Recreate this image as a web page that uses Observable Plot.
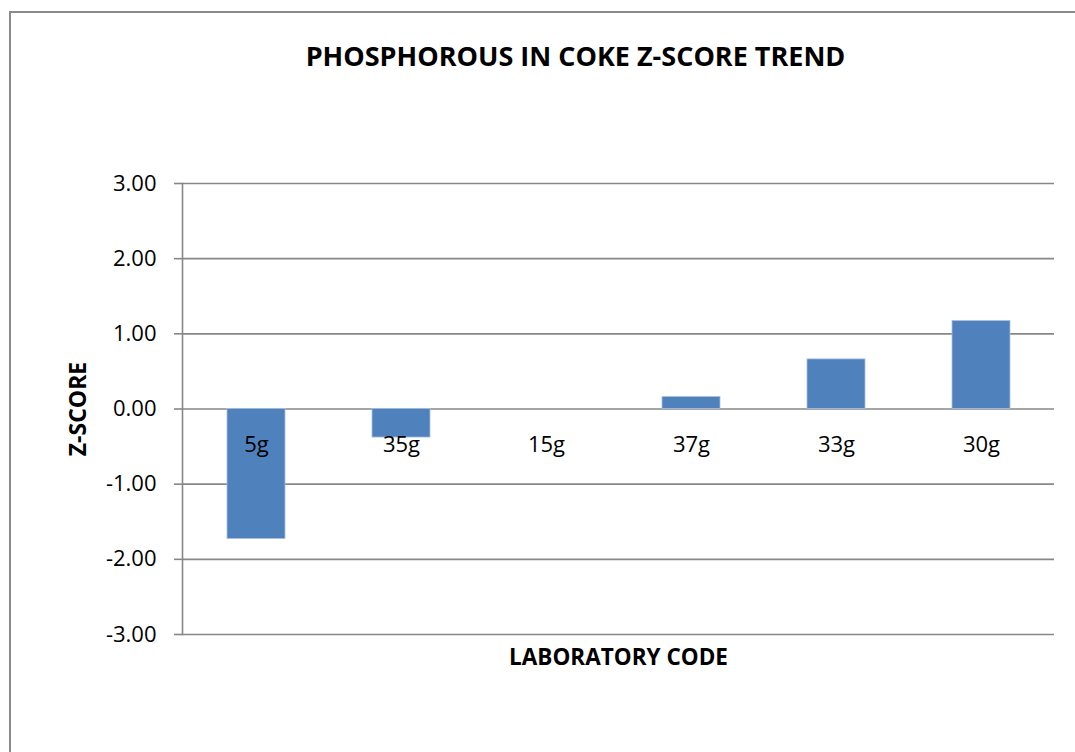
<!DOCTYPE html>
<html>
<head>
<meta charset="utf-8">
<script src="https://cdn.jsdelivr.net/npm/d3@7"></script>
<script src="https://cdn.jsdelivr.net/npm/@observablehq/plot@0.6"></script>
<style>
  html, body { margin: 0; padding: 0; background: #fff; overflow: hidden; }
  #wrap { position: relative; width: 1075px; height: 752px; background: #fff; overflow: hidden; }
  #border { position: absolute; left: 9px; top: 11px; width: 1066px; height: 741px; border-top: 2px solid #8a8a8a; border-left: 2px solid #8a8a8a; box-sizing: border-box; z-index: 2; pointer-events: none; }
  #chart { position: absolute; left: 0; top: 0; z-index: 1; }
</style>
</head>
<body>
<div id="wrap"><div id="chart"></div><div id="border"></div></div>
<script>
const labCodes = ["5g", "35g", "15g", "37g", "33g", "30g"];
const zScores = [-1.73, -0.38, 0.0, 0.16, 0.66, 1.17];
const yTicks = [-3, -2, -1, 0, 1, 2, 3];
const titleText = "PHOSPHOROUS IN COKE Z-SCORE TREND";
const xLabel = "LABORATORY CODE";
const yLabel = "Z-SCORE";

const data = labCodes.map((c, i) => ({code: c, z: zScores[i]}));
const font = "'Open Sans', sans-serif";
const gray = "#878787";
const fmt = d => d.toFixed(2);

const chart = Plot.plot({
  width: 1075,
  height: 752,
  marginLeft: 182,
  marginRight: 21,
  marginTop: 183,
  marginBottom: 118,
  style: {fontFamily: font, background: "transparent", color: "black"},
  x: {domain: labCodes, paddingInner: 0.6, paddingOuter: 0.3, axis: null},
  y: {domain: [-3, 3], axis: null},
  marks: [
    Plot.gridY(yTicks, {stroke: gray, strokeOpacity: 1, strokeWidth: 1.6}),
    Plot.barY(data, {x: "code", y: "z", fill: "#4f81bd", stroke: "#a9c1df", strokeWidth: 0.8}),
    Plot.axisY(yTicks, {tickSize: 8, tickPadding: 18, stroke: gray, strokeWidth: 1.6, tickFormat: fmt, fontSize: 22, fill: "black", label: null}),
    Plot.frame({anchor: "left", stroke: gray, strokeWidth: 1.6}),
    Plot.text(data, {x: "code", y: 0, text: "code", dy: 36, fontSize: 22, fill: "black"}),
    Plot.text([titleText], {frameAnchor: "top", text: d => d, dx: -43, dy: -126, lineAnchor: "middle", fontSize: 27, fontWeight: "bold", fill: "black"}),
    Plot.text([xLabel], {frameAnchor: "bottom", text: d => d, dy: 23, lineAnchor: "middle", fontSize: 22.5, fontWeight: "bold", fill: "black"}),
    Plot.text([yLabel], {frameAnchor: "left", text: d => d, dx: -104, rotate: -90, textAnchor: "middle", fontSize: 23, fontWeight: "bold", fill: "black"})
  ]
});
document.getElementById("chart").appendChild(chart);
</script>
</body>
</html>
